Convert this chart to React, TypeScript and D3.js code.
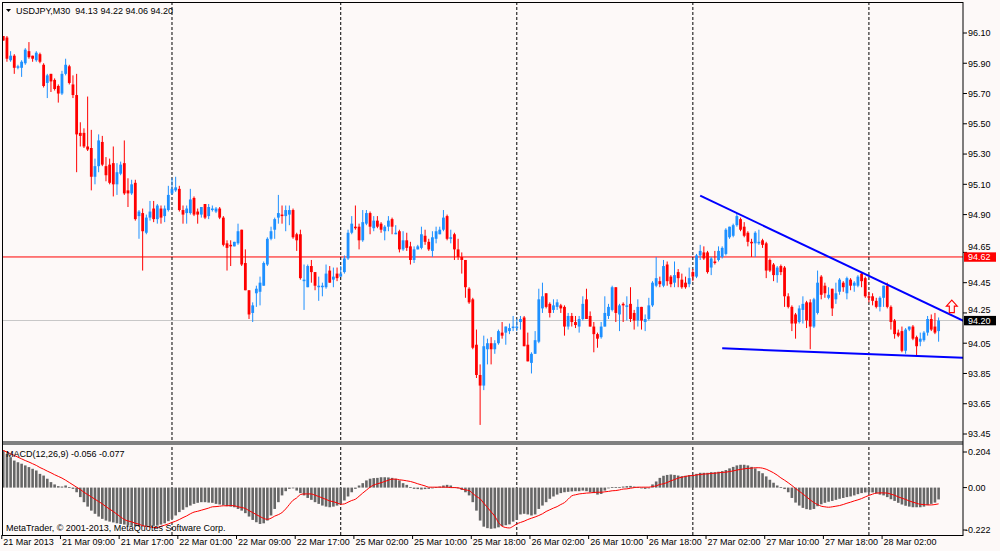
import React from "react";
import * as d3 from "d3";

// USDJPY M30, 21 Mar 2013 – 28 Mar 2013, one value per bar (256 bars)
const openP = [
  96.08, 96.07, 95.92, 95.95, 95.87, 95.87, 95.90, 95.98, 95.95, 95.92, 95.96, 95.89, 95.77, 95.83, 95.79, 95.75,
  95.70, 95.83, 95.88, 95.76, 95.69, 95.44, 95.44, 95.35, 95.34, 95.15, 95.22, 95.38, 95.22, 95.23, 95.24, 95.10,
  95.17, 95.24, 95.06, 95.04, 95.11, 94.89, 94.91, 94.78, 94.88, 94.94, 94.87, 94.94, 94.89, 94.93, 95.04, 95.06,
  95.07, 94.93, 94.91, 94.91, 95.01, 94.92, 94.90, 94.97, 94.89, 94.93, 94.92, 94.94, 94.88, 94.71, 94.70, 94.69,
  94.71, 94.80, 94.58, 94.40, 94.25, 94.38, 94.39, 94.43, 94.57, 94.74, 94.80, 94.88, 94.90, 94.89, 94.90, 94.93,
  94.77, 94.77, 94.46, 94.42, 94.56, 94.52, 94.42, 94.42, 94.42, 94.53, 94.47, 94.51, 94.49, 94.52, 94.61, 94.78,
  94.82, 94.82, 94.73, 94.84, 94.91, 94.81, 94.86, 94.84, 94.79, 94.82, 94.87, 94.77, 94.79, 94.67, 94.73, 94.69,
  94.60, 94.67, 94.68, 94.76, 94.72, 94.66, 94.74, 94.77, 94.80, 94.89, 94.74, 94.77, 94.67, 94.62, 94.60, 94.41,
  94.34, 94.04, 93.84, 93.77, 94.01, 94.05, 94.01, 94.05, 94.12, 94.12, 94.13, 94.15, 94.15, 94.19, 94.22, 94.04,
  93.92, 93.98, 94.06, 94.28, 94.38, 94.31, 94.27, 94.29, 94.30, 94.29, 94.16, 94.23, 94.19, 94.16, 94.21, 94.34,
  94.23, 94.16, 94.11, 94.09, 94.16, 94.23, 94.27, 94.42, 94.24, 94.31, 94.29, 94.31, 94.25, 94.20, 94.29, 94.19,
  94.21, 94.30, 94.43, 94.46, 94.43, 94.57, 94.49, 94.45, 94.52, 94.47, 94.45, 94.44, 94.52, 94.49, 94.63, 94.65,
  94.65, 94.55, 94.59, 94.60, 94.62, 94.64, 94.75, 94.76, 94.83, 94.87, 94.82, 94.78, 94.72, 94.71, 94.71, 94.73,
  94.71, 94.60, 94.57, 94.50, 94.56, 94.55, 94.36, 94.29, 94.24, 94.19, 94.27, 94.32, 94.32, 94.16, 94.25, 94.49,
  94.43, 94.35, 94.41, 94.34, 94.39, 94.45, 94.38, 94.47, 94.43, 94.43, 94.51, 94.48, 94.36, 94.36, 94.33, 94.29,
  94.35, 94.43, 94.29, 94.20, 94.12, 94.13, 94.00, 94.14, 94.16, 94.09, 94.06, 94.07, 94.12, 94.21, 94.16, 94.13,
];
const highP = [
  96.08, 96.08, 95.98, 95.96, 95.89, 95.92, 96.00, 96.04, 95.95, 95.98, 95.97, 95.90, 95.83, 95.83, 95.80, 95.76,
  95.85, 95.93, 95.89, 95.82, 95.83, 95.51, 95.47, 95.68, 95.46, 95.27, 95.43, 95.42, 95.28, 95.27, 95.35, 95.24,
  95.25, 95.39, 95.14, 95.13, 95.13, 94.93, 94.94, 94.90, 94.99, 94.99, 94.97, 94.96, 94.96, 95.09, 95.14, 95.15,
  95.09, 94.96, 94.96, 95.07, 95.02, 94.94, 94.95, 94.97, 94.97, 94.96, 94.95, 94.95, 94.89, 94.73, 94.73, 94.72,
  94.84, 94.80, 94.67, 94.40, 94.32, 94.43, 94.49, 94.59, 94.75, 94.82, 94.88, 95.03, 94.96, 94.96, 94.96, 94.94,
  94.78, 94.80, 94.57, 94.57, 94.60, 94.52, 94.49, 94.45, 94.57, 94.56, 94.55, 94.55, 94.56, 94.63, 94.80, 94.89,
  94.96, 94.84, 94.93, 94.93, 94.92, 94.89, 94.89, 94.85, 94.83, 94.89, 94.88, 94.83, 94.80, 94.79, 94.78, 94.72,
  94.69, 94.70, 94.82, 94.80, 94.74, 94.79, 94.82, 94.82, 94.93, 94.90, 94.80, 94.78, 94.74, 94.65, 94.60, 94.42,
  94.35, 94.14, 93.91, 94.10, 94.08, 94.09, 94.07, 94.14, 94.19, 94.16, 94.18, 94.23, 94.21, 94.23, 94.23, 94.12,
  93.99, 94.13, 94.41, 94.45, 94.38, 94.32, 94.34, 94.34, 94.31, 94.30, 94.25, 94.25, 94.23, 94.23, 94.36, 94.41,
  94.26, 94.19, 94.12, 94.19, 94.36, 94.31, 94.43, 94.42, 94.31, 94.32, 94.36, 94.42, 94.27, 94.34, 94.29, 94.24,
  94.35, 94.46, 94.62, 94.49, 94.60, 94.59, 94.50, 94.59, 94.54, 94.51, 94.49, 94.55, 94.54, 94.64, 94.70, 94.69,
  94.66, 94.62, 94.66, 94.69, 94.69, 94.81, 94.82, 94.84, 94.91, 94.88, 94.85, 94.79, 94.74, 94.79, 94.80, 94.74,
  94.72, 94.61, 94.58, 94.56, 94.57, 94.56, 94.38, 94.30, 94.25, 94.30, 94.36, 94.33, 94.34, 94.35, 94.53, 94.50,
  94.45, 94.42, 94.41, 94.45, 94.48, 94.46, 94.49, 94.48, 94.46, 94.50, 94.52, 94.49, 94.39, 94.38, 94.35, 94.36,
  94.43, 94.45, 94.30, 94.21, 94.14, 94.16, 94.15, 94.16, 94.17, 94.10, 94.12, 94.13, 94.23, 94.24, 94.25, 94.22,
];
const lowP = [
  96.05, 95.91, 95.91, 95.83, 95.86, 95.81, 95.89, 95.93, 95.91, 95.91, 95.90, 95.74, 95.67, 95.71, 95.72, 95.64,
  95.69, 95.82, 95.76, 95.67, 95.18, 95.35, 95.34, 95.32, 95.06, 95.10, 95.18, 95.22, 95.12, 95.10, 95.02, 95.03,
  95.16, 95.03, 94.95, 95.03, 94.86, 94.74, 94.53, 94.77, 94.86, 94.85, 94.84, 94.84, 94.85, 94.92, 95.03, 95.05,
  94.92, 94.84, 94.84, 94.90, 94.89, 94.84, 94.88, 94.87, 94.87, 94.92, 94.91, 94.87, 94.69, 94.53, 94.56, 94.69,
  94.70, 94.56, 94.40, 94.21, 94.19, 94.29, 94.30, 94.43, 94.56, 94.73, 94.74, 94.84, 94.84, 94.79, 94.83, 94.74,
  94.66, 94.47, 94.27, 94.42, 94.45, 94.40, 94.33, 94.36, 94.41, 94.45, 94.42, 94.46, 94.49, 94.51, 94.60, 94.77,
  94.80, 94.67, 94.72, 94.83, 94.77, 94.79, 94.81, 94.78, 94.73, 94.79, 94.77, 94.77, 94.65, 94.66, 94.66, 94.57,
  94.58, 94.67, 94.67, 94.70, 94.66, 94.62, 94.71, 94.77, 94.79, 94.73, 94.71, 94.60, 94.60, 94.51, 94.35, 94.31,
  94.01, 93.82, 93.51, 93.74, 93.91, 93.91, 93.98, 94.04, 94.08, 94.04, 94.11, 94.13, 94.13, 94.14, 94.03, 93.93,
  93.85, 93.98, 94.05, 94.25, 94.28, 94.22, 94.25, 94.27, 94.25, 94.10, 94.14, 94.16, 94.15, 94.12, 94.20, 94.21,
  94.16, 93.99, 94.02, 94.08, 94.16, 94.21, 94.26, 94.19, 94.13, 94.19, 94.20, 94.19, 94.14, 94.16, 94.14, 94.13,
  94.20, 94.29, 94.42, 94.42, 94.42, 94.43, 94.42, 94.42, 94.42, 94.41, 94.41, 94.42, 94.46, 94.48, 94.60, 94.60,
  94.51, 94.50, 94.57, 94.59, 94.61, 94.63, 94.74, 94.75, 94.82, 94.79, 94.75, 94.69, 94.62, 94.62, 94.70, 94.68,
  94.48, 94.52, 94.46, 94.45, 94.50, 94.29, 94.28, 94.13, 94.08, 94.18, 94.18, 94.15, 94.01, 94.15, 94.24, 94.34,
  94.35, 94.34, 94.23, 94.31, 94.37, 94.39, 94.34, 94.40, 94.39, 94.42, 94.42, 94.35, 94.32, 94.30, 94.28, 94.26,
  94.29, 94.28, 94.14, 94.08, 94.09, 93.99, 93.98, 94.13, 94.07, 93.97, 94.03, 94.06, 94.10, 94.13, 94.11, 94.06,
];
const closeP = [
  96.05, 95.93, 95.95, 95.87, 95.88, 95.91, 95.99, 95.94, 95.93, 95.97, 95.91, 95.75, 95.82, 95.78, 95.73, 95.70,
  95.83, 95.89, 95.77, 95.69, 95.43, 95.42, 95.35, 95.33, 95.15, 95.22, 95.39, 95.23, 95.16, 95.11, 95.10, 95.18,
  95.23, 95.04, 95.04, 95.10, 94.87, 94.92, 94.79, 94.88, 94.92, 94.87, 94.96, 94.88, 94.94, 95.03, 95.07, 95.08,
  94.93, 94.90, 94.94, 95.00, 94.90, 94.90, 94.95, 94.88, 94.95, 94.94, 94.94, 94.88, 94.70, 94.68, 94.69, 94.72,
  94.79, 94.57, 94.40, 94.24, 94.30, 94.41, 94.45, 94.58, 94.74, 94.79, 94.87, 94.91, 94.89, 94.93, 94.93, 94.75,
  94.73, 94.48, 94.47, 94.56, 94.52, 94.43, 94.43, 94.43, 94.51, 94.45, 94.49, 94.48, 94.51, 94.61, 94.78, 94.84,
  94.81, 94.73, 94.85, 94.91, 94.82, 94.86, 94.82, 94.80, 94.82, 94.86, 94.82, 94.78, 94.67, 94.73, 94.68, 94.60,
  94.67, 94.69, 94.77, 94.72, 94.67, 94.75, 94.79, 94.80, 94.88, 94.74, 94.75, 94.67, 94.62, 94.60, 94.42, 94.32,
  94.02, 93.84, 93.77, 94.03, 94.05, 94.01, 94.05, 94.13, 94.10, 94.16, 94.15, 94.16, 94.16, 94.21, 94.03, 93.93,
  93.98, 94.07, 94.34, 94.36, 94.29, 94.25, 94.30, 94.32, 94.28, 94.16, 94.23, 94.19, 94.17, 94.21, 94.31, 94.21,
  94.16, 94.11, 94.08, 94.16, 94.25, 94.29, 94.42, 94.25, 94.30, 94.30, 94.30, 94.21, 94.20, 94.29, 94.20, 94.21,
  94.30, 94.45, 94.48, 94.44, 94.56, 94.46, 94.44, 94.50, 94.48, 94.42, 94.42, 94.48, 94.49, 94.63, 94.66, 94.61,
  94.52, 94.61, 94.58, 94.66, 94.68, 94.80, 94.82, 94.83, 94.89, 94.80, 94.76, 94.72, 94.71, 94.78, 94.72, 94.70,
  94.53, 94.53, 94.50, 94.55, 94.52, 94.36, 94.29, 94.18, 94.18, 94.28, 94.31, 94.20, 94.16, 94.34, 94.45, 94.37,
  94.38, 94.37, 94.28, 94.38, 94.47, 94.42, 94.48, 94.43, 94.45, 94.49, 94.46, 94.36, 94.35, 94.33, 94.29, 94.35,
  94.43, 94.29, 94.19, 94.11, 94.10, 94.00, 94.14, 94.16, 94.08, 94.03, 94.08, 94.12, 94.21, 94.14, 94.12, 94.20,
];

// MACD(12,26,9): main line (histogram) and signal line
const macdMain = [
  0.176, 0.160, 0.144, 0.128, 0.120, 0.113, 0.105, 0.097, 0.089, 0.081, 0.065, 0.057, 0.042, 0.026, 0.015, 0.007,
  0.005, 0.010, 0.002, -0.006, -0.022, -0.045, -0.069, -0.090, -0.109, -0.124, -0.137, -0.148, -0.156, -0.161, -0.165, -0.169,
  -0.172, -0.175, -0.180, -0.181, -0.183, -0.184, -0.184, -0.184, -0.183, -0.181, -0.180, -0.175, -0.169, -0.159, -0.148, -0.132,
  -0.116, -0.105, -0.093, -0.085, -0.077, -0.072, -0.069, -0.069, -0.071, -0.072, -0.077, -0.080, -0.083, -0.088, -0.090, -0.093,
  -0.101, -0.109, -0.121, -0.137, -0.153, -0.164, -0.172, -0.169, -0.156, -0.132, -0.101, -0.069, -0.037, -0.017, -0.006, -0.003,
  -0.014, -0.026, -0.037, -0.049, -0.058, -0.069, -0.077, -0.085, -0.090, -0.093, -0.090, -0.085, -0.077, -0.061, -0.042, -0.022,
  -0.006, 0.010, 0.021, 0.034, 0.042, 0.045, 0.046, 0.049, 0.049, 0.048, 0.046, 0.042, 0.034, 0.021, 0.013, 0.002,
  -0.006, -0.007, -0.009, -0.007, -0.006, -0.001, 0.002, 0.005, 0.010, 0.013, 0.010, 0.002, -0.001, -0.011, -0.022, -0.037,
  -0.069, -0.109, -0.156, -0.185, -0.192, -0.195, -0.193, -0.188, -0.182, -0.178, -0.174, -0.161, -0.153, -0.127, -0.124, -0.127,
  -0.132, -0.127, -0.101, -0.085, -0.069, -0.053, -0.042, -0.033, -0.026, -0.022, -0.020, -0.018, -0.017, -0.017, -0.014, -0.017,
  -0.022, -0.026, -0.033, -0.030, -0.014, -0.003, 0.002, 0.002, 0.002, 0.005, 0.007, 0.008, 0.005, 0.002, -0.001, -0.006,
  -0.003, 0.015, 0.029, 0.046, 0.056, 0.060, 0.062, 0.060, 0.057, 0.054, 0.056, 0.059, 0.060, 0.065, 0.070, 0.070,
  0.070, 0.073, 0.073, 0.075, 0.078, 0.083, 0.091, 0.098, 0.105, 0.108, 0.108, 0.105, 0.098, 0.091, 0.078, 0.068,
  0.053, 0.037, 0.023, 0.010, 0.002, -0.007, -0.022, -0.049, -0.071, -0.085, -0.096, -0.102, -0.105, -0.101, -0.088, -0.079,
  -0.072, -0.067, -0.063, -0.058, -0.053, -0.049, -0.045, -0.042, -0.037, -0.031, -0.026, -0.023, -0.022, -0.023, -0.028, -0.033,
  -0.037, -0.045, -0.055, -0.063, -0.072, -0.080, -0.086, -0.090, -0.093, -0.093, -0.093, -0.090, -0.083, -0.077, -0.071, -0.056,
];
const macdSignal = [
  0.176, 0.168, 0.160, 0.152, 0.144, 0.136, 0.128, 0.121, 0.113, 0.105, 0.095, 0.087, 0.078, 0.070, 0.061, 0.053,
  0.045, 0.035, 0.024, 0.013, 0.002, -0.009, -0.022, -0.033, -0.044, -0.055, -0.066, -0.077, -0.090, -0.102, -0.113, -0.126,
  -0.139, -0.151, -0.158, -0.162, -0.169, -0.173, -0.180, -0.183, -0.186, -0.189, -0.189, -0.183, -0.178, -0.172, -0.165, -0.159,
  -0.151, -0.142, -0.134, -0.124, -0.116, -0.112, -0.107, -0.102, -0.097, -0.091, -0.090, -0.088, -0.086, -0.086, -0.085, -0.086,
  -0.091, -0.094, -0.099, -0.109, -0.118, -0.128, -0.137, -0.146, -0.150, -0.145, -0.135, -0.128, -0.118, -0.101, -0.080, -0.060,
  -0.049, -0.033, -0.030, -0.030, -0.030, -0.036, -0.042, -0.049, -0.056, -0.063, -0.067, -0.072, -0.079, -0.077, -0.069, -0.061,
  -0.055, -0.041, -0.026, -0.012, 0.002, 0.012, 0.018, 0.023, 0.029, 0.035, 0.040, 0.040, 0.037, 0.035, 0.032, 0.029,
  0.024, 0.018, 0.013, 0.008, 0.002, 0.002, 0.002, 0.002, 0.002, 0.002, 0.000, 0.000, -0.001, -0.006, -0.011, -0.014,
  -0.028, -0.042, -0.053, -0.074, -0.094, -0.115, -0.135, -0.165, -0.183, -0.189, -0.191, -0.183, -0.172, -0.165, -0.159, -0.151,
  -0.145, -0.139, -0.132, -0.124, -0.113, -0.105, -0.097, -0.090, -0.080, -0.071, -0.055, -0.039, -0.034, -0.030, -0.028, -0.026,
  -0.025, -0.023, -0.022, -0.022, -0.020, -0.018, -0.015, -0.014, -0.011, -0.007, -0.006, -0.003, 0.000, 0.002, 0.002, 0.002,
  0.002, 0.005, 0.008, 0.015, 0.018, 0.024, 0.032, 0.038, 0.045, 0.049, 0.053, 0.056, 0.057, 0.060, 0.062, 0.064,
  0.065, 0.067, 0.068, 0.070, 0.072, 0.073, 0.076, 0.079, 0.083, 0.086, 0.089, 0.091, 0.092, 0.094, 0.094, 0.092,
  0.087, 0.079, 0.070, 0.059, 0.046, 0.035, 0.023, 0.010, -0.004, -0.017, -0.030, -0.044, -0.058, -0.071, -0.080, -0.088,
  -0.091, -0.093, -0.091, -0.088, -0.085, -0.080, -0.074, -0.069, -0.063, -0.058, -0.052, -0.044, -0.037, -0.031, -0.026, -0.025,
  -0.025, -0.026, -0.031, -0.036, -0.044, -0.050, -0.056, -0.063, -0.069, -0.074, -0.079, -0.080, -0.082, -0.082, -0.080, -0.077,
];

const timeLabels = [
  "21 Mar 2013", "21 Mar 09:00", "21 Mar 17:00", "22 Mar 01:00", "22 Mar 09:00", "22 Mar 17:00",
  "25 Mar 02:00", "25 Mar 10:00", "25 Mar 18:00", "26 Mar 02:00", "26 Mar 10:00", "26 Mar 18:00",
  "27 Mar 02:00", "27 Mar 10:00", "27 Mar 18:00", "28 Mar 02:00",
];
const timeLabelBars = [0, 16, 32, 48, 64, 80, 96, 112, 128, 144, 160, 176, 192, 208, 224, 240];
const daySeparatorBars = [46, 92, 140, 188, 236];
const priceTicks = [96.1, 95.9, 95.7, 95.5, 95.3, 95.1, 94.9, 94.65, 94.45, 94.25, 94.05, 93.85, 93.65, 93.45];
const macdTicks = [0.204, 0, -0.222];

const lastQuote = { open: 94.13, high: 94.22, low: 94.06, close: 94.2 };
const levelLine = 94.62;
// trend lines drawn on the chart: [bar, price] anchors
const upperTrend: [number, number][] = [[190, 95.025], [262, 94.195]];
const lowerTrend: [number, number][] = [[196, 94.016], [262, 93.953]];
const arrowMark = { bar: 258.6, price: 94.335 };

const BULL = "#1e90ff";
const BEAR = "#ff0000";
const BG = "#fdf9f8";
const FONT = "'Liberation Sans', Arial, sans-serif";

const W = 1000;
const H = 551;
const left = 2;
const right = 963;
const mainTop = 2;
const mainBottom = 441;
const macdTop = 445;
const macdBottom = 535;

const f2 = (v: number) => v.toFixed(2);
const f3 = (v: number) => v.toFixed(3);

export default function App() {
  const x = d3.scaleLinear().domain([0, 255]).range([3.27, 3.27 + 255 * 3.668]);
  const y = d3.scaleLinear().domain([96.1, 93.45]).range([33, 434]);
  const ym = d3.scaleLinear().domain([0.204, -0.222]).range([444.5, 534.5]);

  const trendPath = d3
    .line<[number, number]>()
    .x((d) => x(d[0]))
    .y((d) => y(d[1]));
  const signalPath = d3
    .line<number>()
    .x((_, i) => x(i))
    .y((d) => ym(d))
    .curve(d3.curveMonotoneX);

  const axX = x(arrowMark.bar);
  const axY = y(arrowMark.price);

  // price-axis label boxes
  const boxes = [
    { p: levelLine, fill: "#ff0000" },
    { p: lastQuote.close, fill: "#000000" },
  ];

  // lift a scale label that would run into a box just below it
  const labelShift = (p: number) => {
    let s = 0;
    boxes.forEach((b) => {
      const gap = y(b.p) - y(p);
      if (gap > 0 && gap < 10.5) s = Math.min(s, gap - 10.5);
    });
    return s;
  };

  return (
    <svg
      width={W}
      height={H}
      viewBox={`0 0 ${W} ${H}`}
      style={{ position: "absolute", left: 0, top: 0, display: "block" }}
      fontFamily={FONT}
      fontSize={9}
    >
      <defs>
        <clipPath id="mainClip">
          <rect x={left} y={mainTop} width={right - left} height={mainBottom - mainTop} />
        </clipPath>
        <clipPath id="macdClip">
          <rect x={left} y={macdTop} width={right - left} height={macdBottom - macdTop} />
        </clipPath>
      </defs>
      <rect x={0} y={0} width={W} height={H} fill={BG} />

      {/* level lines */}
      <line x1={left} x2={right} y1={y(lastQuote.close)} y2={y(lastQuote.close)} stroke="#c8c8c8" strokeWidth={1} />
      <line x1={left} x2={right} y1={y(levelLine)} y2={y(levelLine)} stroke="#ff0000" strokeWidth={1} />

      {/* day separators */}
      {daySeparatorBars.map((b) => (
        <line
          key={b}
          x1={x(b)}
          x2={x(b)}
          y1={mainTop}
          y2={macdBottom}
          stroke="#000"
          strokeWidth={1}
          strokeDasharray="3,2"
        />
      ))}

      {/* candles */}
      <g clipPath="url(#mainClip)">
        {closeP.map((c, i) => {
          const o = openP[i];
          const col = c >= o ? BULL : BEAR;
          const cx = x(i);
          const top = y(Math.max(o, c));
          const bh = Math.max(1, Math.abs(y(o) - y(c)));
          return (
            <g key={i}>
              <line x1={cx} x2={cx} y1={y(highP[i])} y2={y(lowP[i])} stroke={col} strokeWidth={1} />
              <rect x={cx - 1.4} y={top} width={2.8} height={bh} fill={col} />
            </g>
          );
        })}

        <path d={trendPath(upperTrend) || ""} fill="none" stroke="#0000ff" strokeWidth={2} />
        <path d={trendPath(lowerTrend) || ""} fill="none" stroke="#0000ff" strokeWidth={2} />

        <path
          d={`M${axX},${axY} L${axX + 5.5},${axY + 6} L${axX + 2.5},${axY + 6} L${axX + 2.5},${axY + 12.5} L${axX - 2.5},${axY + 12.5} L${axX - 2.5},${axY + 6} L${axX - 5.5},${axY + 6} Z`}
          fill={BG}
          stroke="#ff0000"
          strokeWidth={1.1}
        />
      </g>

      {/* MACD */}
      <g clipPath="url(#macdClip)">
        {macdMain.map((v, i) => (
          <rect
            key={i}
            x={x(i) - 1.3}
            y={Math.min(ym(v), ym(0))}
            width={2.6}
            height={Math.max(0.8, Math.abs(ym(v) - ym(0)))}
            fill="#676767"
          />
        ))}
        <path d={signalPath(macdSignal) || ""} fill="none" stroke="#ff0000" strokeWidth={1} />
      </g>

      {/* panel separator and frame */}
      <rect x={left} y={mainBottom} width={right - left} height={macdTop - mainBottom} fill="#808080" />
      <rect x={left + 0.5} y={mainTop + 0.5} width={right - left - 0.5} height={macdBottom - mainTop} fill="none" stroke="#000" />

      {/* price axis */}
      {priceTicks.map((p) => (
        <g key={p}>
          <line x1={right} x2={right + 4} y1={y(p)} y2={y(p)} stroke="#000" />
          <text x={right + 5} y={y(p) + 3.3 + labelShift(p)} fill="#000">
            {f2(p)}
          </text>
        </g>
      ))}
      {boxes.map((b) => (
        <g key={b.p}>
          <rect x={right + 1} y={y(b.p) - 4.6} width={32} height={9.4} fill={b.fill} />
          <text x={right + 5} y={y(b.p) + 3.3} fill="#fff">
            {f2(b.p)}
          </text>
        </g>
      ))}

      {/* MACD axis */}
      {macdTicks.map((v) => {
        const ty = Math.min(530, Math.max(452, ym(v)));
        return (
          <g key={v}>
            <line x1={right} x2={right + 4} y1={ty} y2={ty} stroke="#000" />
            <text x={v < 0 ? right + 2 : right + 5} y={ty + 3.3} fill="#000">
              {v === 0 ? "0.00" : f3(v)}
            </text>
          </g>
        );
      })}

      {/* time axis */}
      {timeLabels.map((t, k) => {
        const tx = x(timeLabelBars[k]);
        return (
          <g key={t}>
            <line x1={tx - 1.5} x2={tx - 1.5} y1={macdBottom} y2={macdBottom + 4} stroke="#000" />
            <text x={tx} y={545} fill="#000">
              {t}
            </text>
          </g>
        );
      })}

      {/* titles */}
      <path d="M6,9 L11,9 L8.5,12 Z" fill="#000" />
      <text x={16} y={13.5} fill="#000" style={{ whiteSpace: "pre" }}>
        {`USDJPY,M30  ${f2(lastQuote.open)} ${f2(lastQuote.high)} ${f2(lastQuote.low)} ${f2(lastQuote.close)}`}
      </text>
      <text x={6} y={457} fill="#000">
        {`MACD(12,26,9) ${f3(macdMain[255])} ${f3(macdSignal[255])}`}
      </text>
      <text x={6} y={531} fill="#000">
        MetaTrader, © 2001-2013, MetaQuotes Software Corp.
      </text>
    </svg>
  );
}
